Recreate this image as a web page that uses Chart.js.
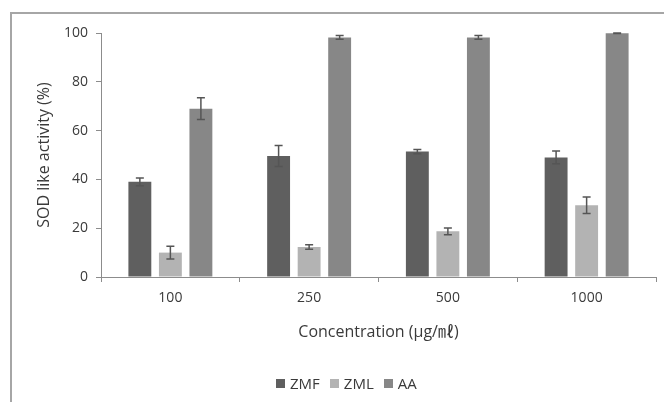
<!DOCTYPE html>
<html>
<head>
<meta charset="utf-8">
<script src="https://cdn.jsdelivr.net/npm/chart.js@4"></script>
<style>
  html, body { margin: 0; padding: 0; background: #fff; }
  #wrap { position: relative; width: 664px; height: 402px; overflow: hidden; font-family: "Open Sans", "Noto Sans CJK JP", sans-serif; color: #3a3a3a; }
  #frame { position: absolute; left: 10px; top: 12px; width: 700px; height: 450px; border-left: 2px solid #a6a6a6; border-top: 2px solid #a6a6a6; }
  #legend { position: absolute; top: 375px; left: 276px; font-size: 15px; line-height: 16px; display: flex; gap: 10px; }
  #legend span.item { display: inline-flex; align-items: center; }
  #legend i { display: inline-block; width: 9px; height: 9px; margin-right: 5px; }
  canvas { position: absolute; left: 0; top: 0; }
</style>
</head>
<body>
<div id="wrap">
  <div id="frame"></div>
  <canvas id="chart" width="664" height="402"></canvas>
  <div id="legend"></div>
</div>
<script>
"use strict";

// ── data ──────────────────────────────────────────────────────────────────────
const concentrations = ["100", "250", "500", "1000"];
const seriesNames = ["ZMF", "ZML", "AA"];
const zmf = [39.0, 49.6, 51.4, 49.0];
const zml = [10.0, 12.3, 18.7, 29.4];
const aa  = [69.0, 98.2, 98.2, 99.9];
const zmfErr = [1.6, 4.3, 0.9, 2.6];
const zmlErr = [2.6, 0.9, 1.4, 3.4];
const aaErr  = [4.5, 0.8, 0.8, 0.1];
const yTicks = [0, 20, 40, 60, 80, 100];

const colors = ["#5f5f5f", "#b3b3b3", "#878787"];
const TEXT = "#3a3a3a";
const AXIS = "#8c8c8c";

// ── error bars drawn from the y scale ─────────────────────────────────────────
const errorBars = {
  id: "errorBars",
  afterDatasetsDraw(chart) {
    const { ctx, scales: { y } } = chart;
    ctx.save();
    ctx.strokeStyle = "#555";
    ctx.lineWidth = 1.5;
    chart.data.datasets.forEach((ds, di) => {
      const meta = chart.getDatasetMeta(di);
      meta.data.forEach((bar, i) => {
        const v = ds.data[i], e = ds.errors[i];
        const top = y.getPixelForValue(v + e);
        const bot = y.getPixelForValue(v - e);
        const x = bar.x, cap = 4;
        ctx.beginPath();
        ctx.moveTo(x, top); ctx.lineTo(x, bot);
        ctx.moveTo(x - cap, top); ctx.lineTo(x + cap, top);
        ctx.moveTo(x - cap, bot); ctx.lineTo(x + cap, bot);
        ctx.stroke();
      });
    });
    ctx.restore();
  },
};

const family = "'Open Sans', 'Noto Sans CJK JP', sans-serif";
const font = { family, size: 14 };
const titleFont = { family, size: 16 };

new Chart(document.getElementById("chart"), {
  type: "bar",
  data: {
    labels: concentrations,
    datasets: [
      { label: seriesNames[0], data: zmf, errors: zmfErr, backgroundColor: colors[0] },
      { label: seriesNames[1], data: zml, errors: zmlErr, backgroundColor: colors[1] },
      { label: seriesNames[2], data: aa,  errors: aaErr,  backgroundColor: colors[2] },
    ],
  },
  options: {
    responsive: false,
    animation: false,
    categoryPercentage: 0.66,
    barPercentage: 0.75,
    layout: { padding: { left: 11, right: 8, top: 33, bottom: 0 } },
    plugins: { legend: { display: false }, tooltip: { enabled: false } },
    scales: {
      x: {
        afterFit(s) { s.height = 125; },
        grid: { offset: true, drawOnChartArea: false, tickLength: 5, color: AXIS },
        border: { color: AXIS },
        ticks: { color: TEXT, font, padding: 8 },
        title: { display: true, text: "Concentration (μg/㎖)", color: TEXT, font: titleFont, padding: { top: 0, bottom: 60 } },
      },
      y: {
        min: 0, max: 100,
        afterFit(s) { s.width = 90; },
        afterBuildTicks(s) { s.ticks = yTicks.map(v => ({ value: v })); },
        grid: { drawOnChartArea: false, tickLength: 5, color: AXIS },
        border: { color: AXIS },
        ticks: { color: TEXT, font, padding: 8 },
        title: { display: true, text: "SOD like activity (%)", color: TEXT, font: titleFont, padding: { top: 24, bottom: 0 } },
      },
    },
  },
  plugins: [errorBars],
});

// ── legend ────────────────────────────────────────────────────────────────────
document.getElementById("legend").innerHTML = seriesNames
  .map((n, i) => `<span class="item"><i style="background:${colors[i]}"></i>${n}</span>`)
  .join("");
</script>
</body>
</html>
